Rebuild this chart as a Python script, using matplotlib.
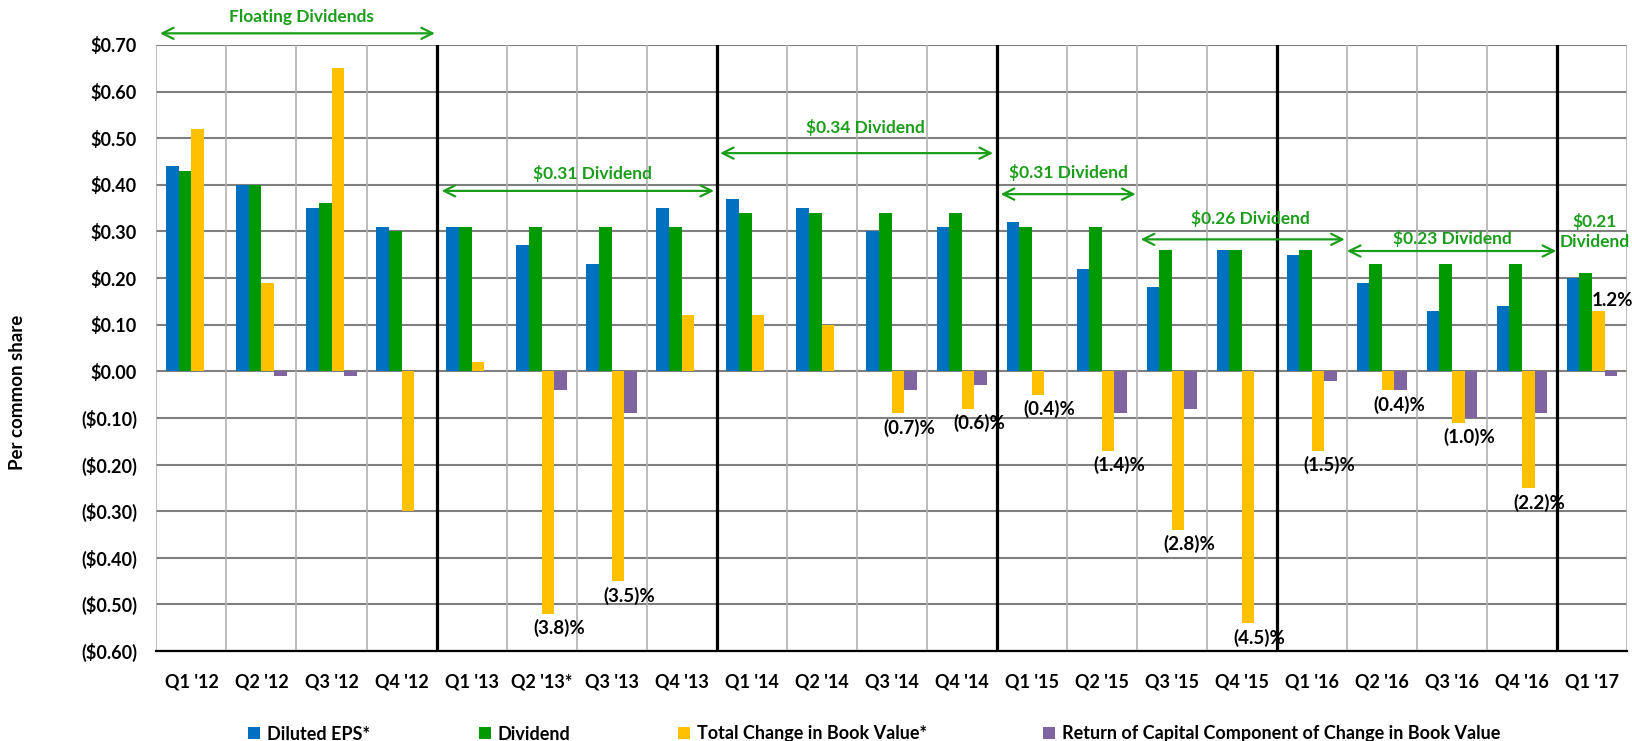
import matplotlib
matplotlib.use("Agg")
import matplotlib.pyplot as plt
from matplotlib.patches import Patch
import numpy as np

plt.rcParams['font.family'] = ['Lato', 'DejaVu Sans']

# ---- data -------------------------------------------------------------
quarters = ["Q1 '12", "Q2 '12", "Q3 '12", "Q4 '12",
            "Q1 '13", "Q2 '13*", "Q3 '13", "Q4 '13",
            "Q1 '14", "Q2 '14", "Q3 '14", "Q4 '14",
            "Q1 '15", "Q2 '15", "Q3 '15", "Q4 '15",
            "Q1 '16", "Q2 '16", "Q3 '16", "Q4 '16",
            "Q1 '17"]

diluted_eps = [0.44, 0.40, 0.35, 0.31,
               0.31, 0.27, 0.23, 0.35,
               0.37, 0.35, 0.30, 0.31,
               0.32, 0.22, 0.18, 0.26,
               0.25, 0.19, 0.13, 0.14,
               0.20]

dividend = [0.43, 0.40, 0.36, 0.30,
            0.31, 0.31, 0.31, 0.31,
            0.34, 0.34, 0.34, 0.34,
            0.31, 0.31, 0.26, 0.26,
            0.26, 0.23, 0.23, 0.23,
            0.21]

book_value_change = [0.52, 0.19, 0.65, -0.30,
                     0.02, -0.52, -0.45, 0.12,
                     0.12, 0.10, -0.09, -0.08,
                     -0.05, -0.17, -0.34, -0.54,
                     -0.17, -0.04, -0.11, -0.25,
                     0.13]

return_of_capital = [0.00, -0.01, -0.01, 0.00,
                     0.00, -0.04, -0.09, 0.00,
                     0.00, 0.00, -0.04, -0.03,
                     0.00, -0.09, -0.08, 0.00,
                     -0.02, -0.04, -0.10, -0.09,
                     -0.01]

# percent change in book value, keyed by quarter index
pct_labels = {5: "(3.8)%", 6: "(3.5)%", 10: "(0.7)%", 11: "(0.6)%",
              12: "(0.4)%", 13: "(1.4)%", 14: "(2.8)%", 15: "(4.5)%",
              16: "(1.5)%", 17: "(0.4)%", 18: "(1.0)%", 19: "(2.2)%",
              20: "1.2%"}

series_names = ["Diluted EPS*", "Dividend", "Total Change in Book Value*",
                "Return of Capital Component of Change in Book Value"]
series_colors = ["#0070C0", "#009900", "#FFC000", "#8064A2"]

yticks = np.round(np.arange(-0.6, 0.701, 0.1), 2)

# ---- figure -----------------------------------------------------------
fig = plt.figure(figsize=(16.33, 7.41), dpi=100)
ax = fig.add_axes([0.0958, 0.1215, 0.9005, 0.8178])

x = np.arange(len(quarters))
w = 0.18
series = [diluted_eps, dividend, book_value_change, return_of_capital]
for i, (vals, col, name) in enumerate(zip(series, series_colors, series_names)):
    ax.bar(x + (i - 1.5) * w, vals, width=w, color=col, label=name, zorder=3,
           edgecolor='none')

ax.set_xlim(-0.5, len(quarters) - 0.5)
ax.set_ylim(-0.6, 0.7)

# horizontal grid
for yv in yticks:
    ax.axhline(yv, color='#7f7f7f', lw=1.5, zorder=1)

# quarter separators and year separators
for b in np.arange(-0.5, len(quarters) - 0.4, 1.0):
    ax.axvline(b, color='#b0b0b0', lw=1.2, zorder=1)
for b in [3.5, 7.5, 11.5, 15.5, 19.5]:
    ax.axvline(b, color='black', lw=2.3, zorder=2)

for s in ['top', 'left', 'right']:
    ax.spines[s].set_visible(False)
ax.spines['bottom'].set_color('black')
ax.spines['bottom'].set_linewidth(1.6)
ax.spines['bottom'].set_zorder(4)

def money(v):
    v = round(float(v), 2)
    return f"(${abs(v):.2f})" if v < 0 else f"${abs(v):.2f}"

ax.set_yticks(yticks)
ax.set_yticklabels([money(v) for v in yticks], fontsize=13, fontweight='bold')
ax.set_xticks(x)
ax.set_xticklabels(quarters, fontsize=13, fontweight='bold')
ax.tick_params(axis='y', length=0, pad=14)
ax.tick_params(axis='x', length=0, pad=16)

fig.text(0.0105, 0.47, "Per common share", rotation=90, fontsize=13.5,
         fontweight='bold', ha='center', va='center')

# percent-change labels on the book-value bars
for idx, txt in pct_labels.items():
    v = book_value_change[idx]
    bx = x[idx] + 0.5 * w
    if v < 0:
        ax.text(bx + 0.16, v - 0.012, txt, ha='center', va='top',
                fontsize=13.5, fontweight='bold', zorder=5)
    else:
        ax.text(bx - 0.5 * w, v + 0.004, txt, ha='left', va='bottom',
                fontsize=13.5, fontweight='bold', zorder=5, clip_on=False)

# dividend-regime annotations
green = '#1a9e1a'
regimes = [
    ("Floating Dividends", -0.45, 3.477, 0.725, 1.564, 0.760),
    ("$0.31 Dividend", 3.573, 7.462, 0.387, 5.72, 0.425),
    ("$0.34 Dividend", 7.548, 11.447, 0.468, 9.63, 0.524),
    ("$0.31 Dividend", 11.556, 13.484, 0.380, 12.53, 0.427),
    ("$0.26 Dividend", 13.556, 16.47, 0.283, 15.12, 0.328),
    ("$0.23 Dividend", 16.50, 19.49, 0.258, 18.0, 0.285),
]
for label, x0, x1, ya, xt, yt in regimes:
    ax.annotate("", xy=(x0, ya), xytext=(x1, ya),
                arrowprops=dict(arrowstyle='<->,head_length=0.8,head_width=0.4',
                                color=green, lw=1.6, shrinkA=0, shrinkB=0),
                annotation_clip=False, zorder=6)
    ax.text(xt, yt, label, color=green, fontsize=12.5, fontweight='bold',
            ha='center', va='center', zorder=6, clip_on=False)
ax.text(20.04, 0.300, "$0.21\nDividend", color=green, fontsize=12.5,
        fontweight='bold', ha='center', va='center', linespacing=1.25,
        zorder=6, clip_on=False)

# legend entries placed individually
legend_x = [248, 479, 678, 1043]
for name, col, px in zip(series_names, series_colors, legend_x):
    fig.legend(handles=[Patch(facecolor=col, edgecolor='none')], labels=[name],
               loc='center left', bbox_to_anchor=(px / 1633, 1 - 734 / 741),
               frameon=False, borderpad=0, borderaxespad=0, handlelength=0.65,
               handleheight=0.65, handletextpad=0.4,
               prop=dict(size=13, weight='bold'))

fig.savefig("out.png", dpi=100)
